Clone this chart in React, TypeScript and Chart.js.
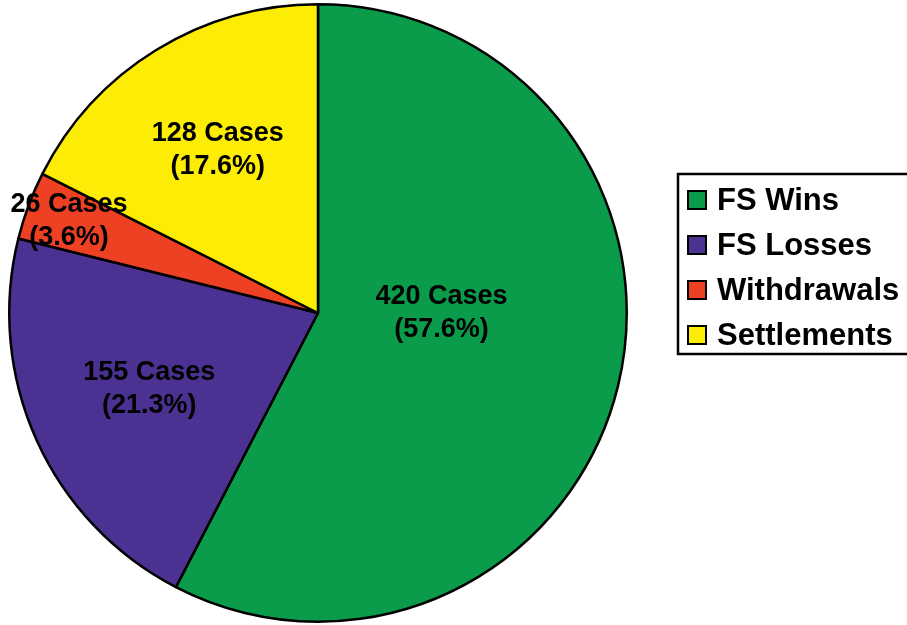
import React, { useEffect, useRef } from "react";
import { Chart, registerables } from "chart.js";

Chart.register(...registerables);

const categories = ["FS Wins", "FS Losses", "Withdrawals", "Settlements"];
const caseCounts = [420, 155, 26, 128];
const percentLabels = ["57.6%", "21.3%", "3.6%", "17.6%"];
const sliceColors = ["#0A9B4B", "#4B3192", "#EE4123", "#FCEC06"];

// label placement inside slices: radial fraction and angle offset (deg)
const labelRadial = [0.4, 0.6, 0.86, 0.62];
const labelAngleShift = [-13.7, 0, 0, 0];

const sliceLabelPlugin = {
  id: "sliceLabels",
  afterDatasetsDraw(chart: any) {
    const ctx = chart.ctx;
    const meta = chart.getDatasetMeta(0);
    ctx.save();
    ctx.font = "bold 27px 'Liberation Sans', Arial, sans-serif";
    ctx.fillStyle = "#000";
    ctx.textAlign = "center";
    ctx.textBaseline = "middle";
    meta.data.forEach((arc: any, i: number) => {
      const p = arc.getProps(["x", "y", "startAngle", "endAngle", "outerRadius"], true);
      const mid = (p.startAngle + p.endAngle) / 2 + (labelAngleShift[i] * Math.PI) / 180;
      const r = p.outerRadius * labelRadial[i];
      const cx = p.x + Math.cos(mid) * r;
      const cy = p.y + Math.sin(mid) * r;
      ctx.fillText(`${caseCounts[i]} Cases`, cx, cy - 16.5);
      ctx.fillText(`(${percentLabels[i]})`, cx, cy + 16.5);
    });
    ctx.restore();
  },
};

const boxLegendPlugin = {
  id: "boxLegend",
  afterDraw(chart: any) {
    const ctx = chart.ctx;
    const ds = chart.data.datasets[0];
    const left = chart.chartArea.right + 42;
    const top = 174;
    const rowGap = 45;
    ctx.save();
    ctx.lineWidth = 2.5;
    ctx.strokeStyle = "#000";
    ctx.strokeRect(left, top, 240, 180);
    ctx.font = "bold 31px 'Liberation Sans', Arial, sans-serif";
    ctx.textAlign = "left";
    ctx.textBaseline = "middle";
    (chart.data.labels as string[]).forEach((lab, i) => {
      const cy = top + 26 + i * rowGap;
      ctx.fillStyle = ds.backgroundColor[i];
      ctx.fillRect(left + 10, cy - 9, 18, 18);
      ctx.lineWidth = 2;
      ctx.strokeRect(left + 10, cy - 9, 18, 18);
      ctx.fillStyle = "#000";
      ctx.fillText(lab, left + 39, cy + 1);
    });
    ctx.restore();
  },
};

export default function App() {
  const ref = useRef<HTMLCanvasElement>(null);
  useEffect(() => {
    if (!ref.current) return;
    const chart = new Chart(ref.current, {
      type: "pie",
      data: {
        labels: categories,
        datasets: [
          {
            data: caseCounts,
            backgroundColor: sliceColors,
            borderColor: "#000",
            borderWidth: 2.5,
          },
        ],
      },
      options: {
        responsive: false,
        animation: false,
        devicePixelRatio: 1,
        layout: { padding: { top: 3, bottom: 2, left: 0, right: 271 } },
        plugins: {
          legend: { display: false },
          tooltip: { enabled: false },
        },
      },
      plugins: [sliceLabelPlugin, boxLegendPlugin],
    });
    return () => chart.destroy();
  }, []);
  return (
    <div style={{ position: "absolute", left: 0, top: 0, width: 907, height: 625, background: "#fff" }}>
      <canvas ref={ref} width={907} height={625} />
    </div>
  );
}
